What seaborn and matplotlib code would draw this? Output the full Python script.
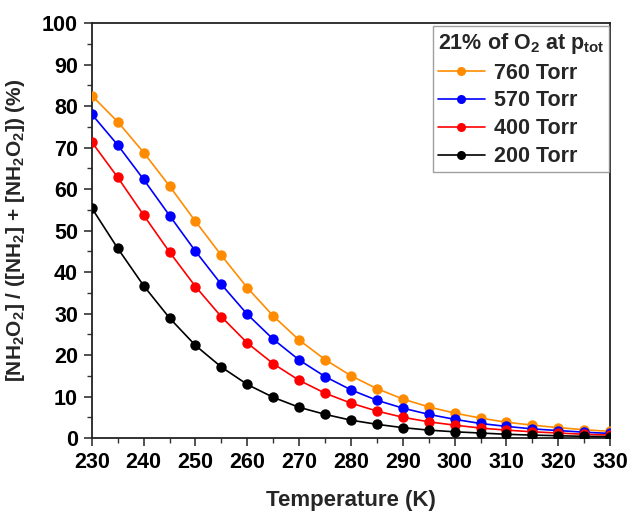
import matplotlib
matplotlib.use("Agg")
import matplotlib.pyplot as plt
import seaborn as sns
import pandas as pd
from matplotlib.ticker import MultipleLocator
from matplotlib.lines import Line2D

temps = [230, 235, 240, 245, 250, 255, 260, 265, 270, 275, 280,
         285, 290, 295, 300, 305, 310, 315, 320, 325, 330]
torr_760 = [82.5, 76.2, 68.8, 60.7, 52.2, 44.0, 36.2, 29.4, 23.6, 18.9, 15.0,
            11.9, 9.4, 7.5, 6.0, 4.8, 3.8, 3.1, 2.5, 2.0, 1.6]
torr_570 = [78.0, 70.6, 62.3, 53.6, 45.0, 37.0, 29.8, 23.8, 18.8, 14.8, 11.6,
            9.1, 7.2, 5.7, 4.5, 3.5, 2.8, 2.2, 1.8, 1.4, 1.1]
torr_400 = [71.3, 62.8, 53.7, 44.8, 36.5, 29.2, 22.9, 17.9, 13.9, 10.8, 8.4,
            6.5, 5.0, 3.9, 3.1, 2.4, 1.9, 1.5, 1.2, 0.9, 0.7]
torr_200 = [55.4, 45.7, 36.7, 28.9, 22.3, 17.1, 12.9, 9.8, 7.4, 5.7, 4.3,
            3.3, 2.5, 1.9, 1.5, 1.2, 0.9, 0.7, 0.55, 0.4, 0.3]
series_names = ["760 Torr", "570 Torr", "400 Torr", "200 Torr"]
series_values = [torr_760, torr_570, torr_400, torr_200]
colors = ["#FF8C00", "#0000FF", "#FF0000", "#000000"]

rows = []
for name, vals in zip(series_names, series_values):
    for t, v in zip(temps, vals):
        rows.append({"T": t, "val": v, "series": name})
df = pd.DataFrame(rows)

sns.set_style("ticks")
plt.rcParams["font.family"] = ["Liberation Sans", "DejaVu Sans"]
plt.rcParams["font.weight"] = "bold"
plt.rcParams["mathtext.fontset"] = "custom"
plt.rcParams["mathtext.rm"] = "Liberation Sans:bold"
plt.rcParams["mathtext.it"] = "Liberation Sans:bold"
plt.rcParams["mathtext.bf"] = "Liberation Sans:bold"
plt.rcParams["mathtext.default"] = "rm"

fig = plt.figure(figsize=(6.29, 5.12), dpi=100)
ax = fig.add_axes([0.146, 0.1445, 0.824, 0.8105])

palette = dict(zip(series_names, colors))
sns.lineplot(data=df, x="T", y="val", hue="series", hue_order=series_names,
             palette=palette, marker="o", markersize=7.5, markeredgewidth=0,
             linewidth=1.2, ax=ax, legend=False, zorder=3)

ax.set_xlim(230, 330)
ax.set_ylim(0, 100)
ax.xaxis.set_major_locator(MultipleLocator(10))
ax.xaxis.set_minor_locator(MultipleLocator(5))
ax.yaxis.set_major_locator(MultipleLocator(10))
ax.yaxis.set_minor_locator(MultipleLocator(5))
ax.tick_params(which="major", direction="out", length=6, width=1.2,
               labelsize=15.5, color="#333333", labelcolor="black", pad=4)
ax.tick_params(which="minor", direction="out", length=3.5, width=1.0,
               color="#333333")
for lab in ax.get_xticklabels() + ax.get_yticklabels():
    lab.set_fontweight("bold")
for sp in ax.spines.values():
    sp.set_visible(True)
    sp.set_linewidth(1.3)
    sp.set_color("#222222")

ax.set_xlabel("Temperature (K)", fontsize=16, fontweight="bold", labelpad=12)
ax.set_ylabel("[NH$_2$O$_2$] / ([NH$_2$] + [NH$_2$O$_2$]) (%)",
              fontsize=15, fontweight="bold", labelpad=11)

handles = [Line2D([0], [0], color=c, marker="o", markersize=6.5,
                  markeredgewidth=0, linewidth=1.2) for c in colors]
leg = ax.legend(handles, series_names, title="21% of O$_2$ at p$_{tot}$",
                loc="upper right", bbox_to_anchor=(0.997, 0.992),
                frameon=True, fancybox=False, edgecolor="#888888",
                fontsize=15.5, title_fontsize=15.5, handlelength=2.2,
                handletextpad=0.4, labelspacing=0.32, borderpad=0.2,
                borderaxespad=0.0)
leg._legend_box.align = "left"
leg.get_title().set_fontweight("bold")
for t in leg.get_texts():
    t.set_fontweight("bold")
leg.get_frame().set_linewidth(1.0)

fig.savefig("out.png", dpi=100)
